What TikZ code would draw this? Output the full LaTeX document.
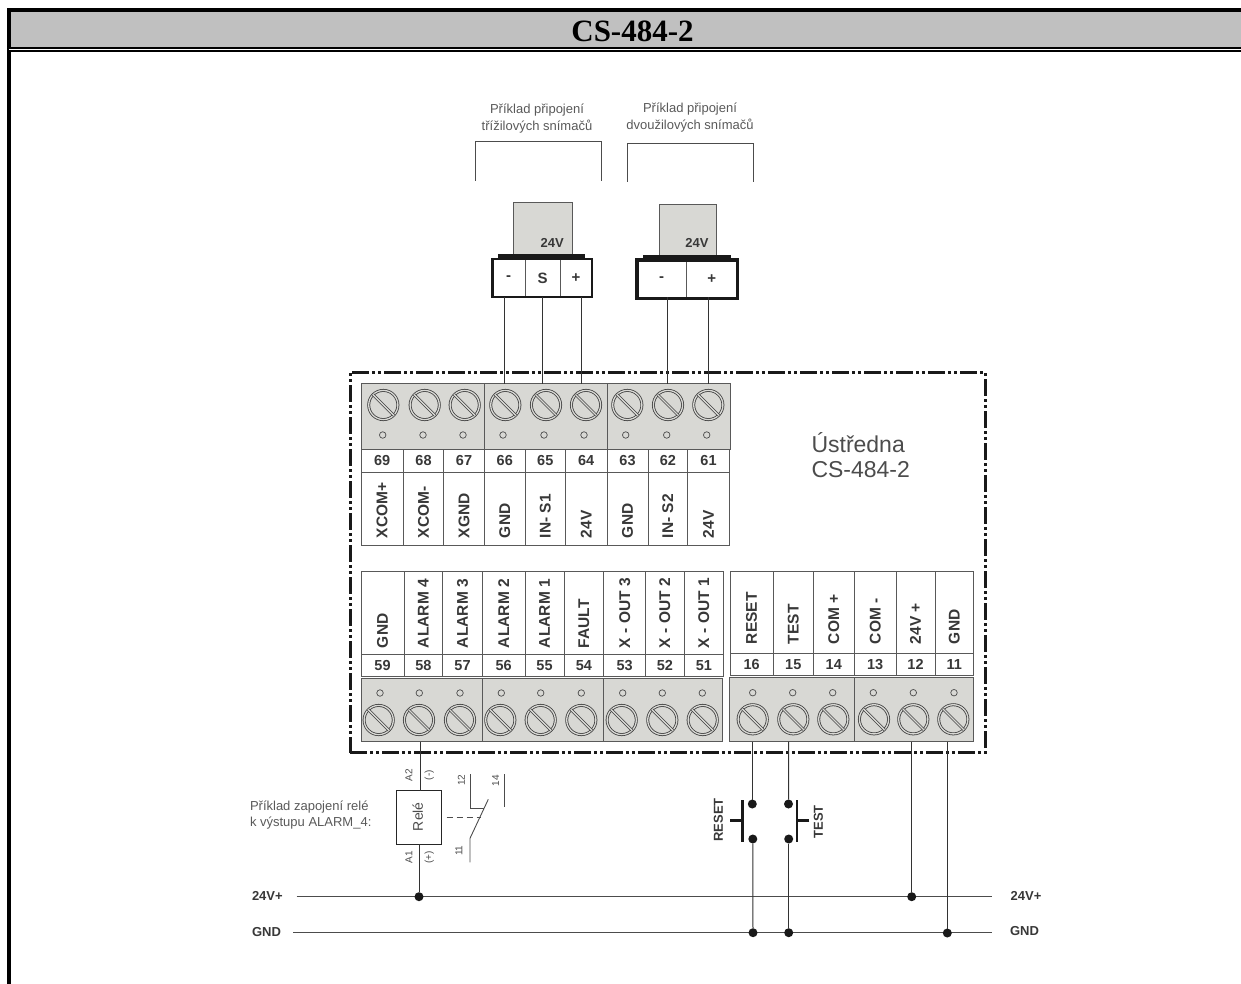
\documentclass[tikz,border=0pt]{standalone}
\usepackage{fontspec}
\setmainfont{Liberation Sans}
\newfontfamily\titlefont{Liberation Serif}
\usepackage{tikz}
\definecolor{stripgray}{RGB}{216,216,212}
\definecolor{bandgray}{RGB}{192,192,192}
\definecolor{inkgray}{gray}{0.22}
\tikzset{
    every node/.style={align=center,inner sep=0pt,outer sep=0pt,text=inkgray},
    wire/.style={draw=black!80,line width=1pt},
    thinline/.style={draw=black!70,line width=0.9pt},
    strip/.style={draw=black!65,fill=stripgray,line width=0.9pt,anchor=north west},
    cell/.style={draw=black!65,fill=white,line width=0.9pt,anchor=north west},
    unitbox/.style={draw=black!90,line width=3pt,anchor=north west,dash pattern=on 17pt off 3pt on 3pt off 3pt on 3pt off 3pt},
    hole/.style={draw=black!70,circle,minimum size=6.5pt,line width=0.7pt},
    dot/.style={fill=black!90,circle,minimum size=9pt},
    numtext/.style={font=\fontsize{14.5}{16}\selectfont\bfseries},
    termtext/.style={font=\fontsize{15.5}{17}\selectfont\bfseries,rotate=90,anchor=west},
    smalltext/.style={font=\fontsize{13}{16.5}\selectfont,text=black!65},
    bustext/.style={font=\fontsize{13}{15}\selectfont\bfseries},
    tinytext/.style={font=\fontsize{10}{12}\selectfont,rotate=90,text=black!70},
    pins/.style={font=\fontsize{15}{17}\selectfont\bfseries},
    screw/.pic={
        \draw[black!75,double=stripgray,double distance=1.3pt,line width=0.8pt] (0,0) circle (14.6);
        \draw[black!75,double=stripgray,double distance=1.4pt,line width=0.7pt] (-10.5,-10.5) -- (10.5,10.5);
    },
}

\begin{document}
\begin{tikzpicture}[x=1pt,y=-1pt]
    \useasboundingbox (0,0) rectangle (1241,984);

    % frame and title band
    \node[fill=bandgray,anchor=north west,minimum width=1230pt,minimum height=35pt] (band) at (11,12) {};
    \fill[black] (7,8) rectangle (1241,12);
    \fill[black] (7,8) rectangle (11,984);
    \fill[black] (7,47) rectangle (1241,49);
    \fill[black] (7,50) rectangle (1241,52);
    \fill[white] (9,49) rectangle (1241,50);
    \node[font=\fontsize{31}{33}\selectfont\titlefont\bfseries,text=black] (title) at (632.5,31) {CS-484-2};

    % control unit
    \node[unitbox,minimum width=635pt,minimum height=380.7pt] (unit) at (350,372) {};
    \node[font=\fontsize{23}{25}\selectfont,align=left,anchor=north west,text=black!70] (unitname) at (811.5,433) {Ústředna\\CS-484-2};

    % upper terminals
    \node[strip,minimum width=123.3pt,minimum height=65.5pt] (stripa) at (361,383.5) {};
    \node[strip,minimum width=122.7pt,minimum height=65.5pt] (stripb) at (484.3,383.5) {};
    \node[strip,minimum width=123.7pt,minimum height=65.5pt] (stripc) at (607,383.5) {};
    \foreach \x/\w/\sx/\cx/\num/\lab in {
        361/42.3/383.3/382.7/69/XCOM+, 403.3/40.4/424.7/423/68/XCOM-, 443.7/40.6/464.7/463/67/XGND,
        484.3/41/505.3/503/66/GND, 525.3/40/546/544/65/IN- S1, 565.3/41.7/586/584/64/24V,
        607/41/627.3/625.7/63/GND, 648/39.7/668/666.7/62/IN- S2, 687.7/41.6/708.3/706.7/61/24V}{
        \pic at (\sx,405) {screw};
        \node[hole] (hole\num) at (\cx,435) {};
        \node[cell,numtext,minimum width=\w pt,minimum height=23.5pt] (num\num) at (\x,449) {\num};
        \node[cell,minimum width=\w pt,minimum height=73.2pt] (box\num) at (\x,472.5) {};
        \node[termtext] (txt\num) at ([yshift=7.7pt]box\num.south) {\lab};
    }

    % lower terminals, left block
    \node[strip,minimum width=121.3pt,minimum height=63pt] (stripd) at (361,678.7) {};
    \node[strip,minimum width=121.4pt,minimum height=63pt] (stripe) at (482.3,678.7) {};
    \node[strip,minimum width=118.6pt,minimum height=63pt] (stripf) at (603.7,678.7) {};
    \foreach \x/\w/\sx/\cx/\num/\lab in {
        361/43/378.7/380/59/GND, 404/38.7/419/419.3/58/ALARM 4, 442.7/39.6/460/460/57/ALARM 3,
        482.3/42.7/500.3/501.3/56/ALARM 2, 525/39/540.7/540.7/55/ALARM 1, 564/39.7/581.3/581.3/54/FAULT,
        603.7/42/621.7/622.7/53/X - OUT 3, 645.7/38.3/662.3/662.3/52/X - OUT 2, 684/39.7/702.7/702.3/51/X - OUT 1}{
        \pic at (\sx,720) {screw};
        \node[hole] (hole\num) at (\cx,693) {};
        \node[cell,minimum width=\w pt,minimum height=82.6pt] (box\num) at (\x,571.7) {};
        \node[cell,numtext,minimum width=\w pt,minimum height=22pt] (num\num) at (\x,654.3) {\num};
        \node[termtext] (txt\num) at ([yshift=6.3pt]box\num.south) {\lab};
    }

    % lower terminals, right block
    \node[strip,minimum width=125pt,minimum height=64.4pt] (stripg) at (729.3,677.3) {};
    \node[strip,minimum width=119pt,minimum height=64.4pt] (striph) at (854.3,677.3) {};
    \foreach \x/\w/\sx/\cx/\num/\lab in {
        730/43.3/752.7/752.7/16/RESET, 773.3/40/793.3/792.7/15/TEST, 813.3/41/833.3/832.7/14/COM +,
        854.3/41.7/874/873.3/13/COM -, 896/39/913.3/913.3/12/24V +, 935/38.3/953.3/954/11/GND}{
        \pic at (\sx,719.3) {screw};
        \node[hole] (hole\num) at (\cx,692.7) {};
        \node[cell,minimum width=\w pt,minimum height=82pt] (box\num) at (\x,571.3) {};
        \node[cell,numtext,minimum width=\w pt,minimum height=21.7pt] (num\num) at (\x,653.3) {\num};
        \node[termtext] (txt\num) at ([yshift=9.3pt]box\num.south) {\lab};
    }

    % sensors, three wires
    \node[smalltext] (threetext) at (537,118.5) {Příklad připojení\\třížilových snímačů};
    \draw[thinline] (475,181) -- (475,141.7) -- (601.3,141.7) -- (601.3,181);
    \node[fill=stripgray,draw=black!65,line width=0.9pt,anchor=north west,minimum width=58.7pt,minimum height=51.3pt] (bodya) at (513.3,202.7) {};
    \node[bustext] (volta) at (552.3,242.7) {24V};
    \node[fill=black!90,anchor=north west,minimum width=86.7pt,minimum height=5.3pt] (bara) at (498.3,254) {};
    \node[cell,pins,minimum width=32.7pt,minimum height=37.7pt] (minusa) at (492.3,259) {-};
    \node[cell,pins,minimum width=35pt,minimum height=37.7pt] (signala) at (525,259) {S};
    \node[cell,pins,minimum width=32pt,minimum height=37.7pt] (plusa) at (560,259) {+};
    \draw[black!90,line width=2.4pt] (minusa.north west) rectangle (plusa.south east);

    % sensors, two wires
    \node[smalltext] (twotext) at (690,117.5) {Příklad připojení\\dvoužilových snímačů};
    \draw[thinline] (627,182) -- (627,143.3) -- (753,143.3) -- (753,182);
    \node[fill=stripgray,draw=black!65,line width=0.9pt,anchor=north west,minimum width=57.4pt,minimum height=51pt] (bodyb) at (659.3,204) {};
    \node[bustext] (voltb) at (697,243.3) {24V};
    \node[fill=black!90,anchor=north west,minimum width=87.7pt,minimum height=6.7pt] (barb) at (643,255) {};
    \node[cell,pins,minimum width=49pt,minimum height=38.3pt] (minusb) at (637,260) {-};
    \node[cell,pins,minimum width=51.7pt,minimum height=38.3pt] (plusb) at (686,260) {+};
    \draw[black!90,line width=3.2pt] (minusb.north west) rectangle (plusb.south east);

    % sensor wires
    \foreach \x/\name in {504.3/a,542.7/b,581/c,667.5/d,708.3/e}{
        \coordinate (wiretop\name) at (\x,297);
        \coordinate (wirebot\name) at (\x,383.5);
        \draw[wire] (wiretop\name) -- (wirebot\name);
    }

    % supply lines
    \node[bustext,anchor=west] (plusleft) at (252,895.5) {24V+};
    \node[bustext,anchor=west] (gndleft) at (252,932) {GND};
    \node[bustext,anchor=west] (plusright) at (1010.7,896) {24V+};
    \node[bustext,anchor=west] (gndright) at (1010,931) {GND};
    \coordinate (busplusa) at (296.7,896.7);
    \coordinate (busplusb) at (991.7,896.7);
    \coordinate (busgnda) at (293.3,932.7);
    \coordinate (busgndb) at (991.7,932.7);
    \draw[wire,draw=black!70] (busplusa) -- (busplusb);
    \draw[wire,draw=black!70] (busgnda) -- (busgndb);

    % relay
    \node[smalltext,align=left,anchor=west] (relaytext) at (250,815) {Příklad zapojení relé\\k výstupu ALARM\_4:};
    \node[draw=black!85,line width=1pt,fill=white,minimum width=44.6pt,minimum height=53.6pt,anchor=north west] (relay) at (396.7,790.7) {};
    \node[font=\fontsize{14}{16}\selectfont,rotate=90,text=black!70] (relayname) at (417.7,816.7) {Relé};
    \node[tinytext] (atwo) at (409,775) {A2};
    \node[tinytext] (minusrel) at (429.3,775) {(-)};
    \node[tinytext] (aone) at (409,857.3) {A1};
    \node[tinytext] (plusrel) at (429.3,857.3) {(+)};
    \node[tinytext] (ctwelve) at (461.3,780) {12};
    \node[tinytext] (cfourteen) at (495.7,780.7) {14};
    \node[tinytext] (celeven) at (459,850.7) {11};
    \coordinate (pinrelay) at (420.3,741.7);
    \node[dot] (joinrelay) at (419,896.7) {};
    \draw[wire] (pinrelay) -- (pinrelay |- relay.north);
    \draw[wire] (relay.south) -- (joinrelay);

    % relay contact
    \coordinate (twelvetop) at (470,774);
    \coordinate (twelvebot) at (470,808.3);
    \coordinate (twelveend) at (484.3,808.3);
    \coordinate (fourtop) at (504,774);
    \coordinate (fourbot) at (504,807.3);
    \coordinate (levertop) at (488.3,799.3);
    \coordinate (leverbot) at (470,838.3);
    \coordinate (elevenbot) at (470,862.3);
    \coordinate (dasha) at (446.7,817.7);
    \coordinate (dashb) at (480.7,817.7);
    \draw[thinline] (twelvetop) -- (twelvebot) -- (twelveend);
    \draw[thinline] (fourtop) -- (fourbot);
    \draw[thinline] (levertop) -- (leverbot) -- (elevenbot);
    \draw[thinline,dash pattern=on 6.5pt off 3.5pt] (dasha) -- (dashb);

    % push buttons
    \node[dot] (resettop) at (752.3,804) {};
    \node[dot] (resetbot) at (752.8,839) {};
    \node[dot] (testtop) at (788.5,804) {};
    \node[dot] (testbot) at (788.7,839) {};
    \node[dot] (resetgnd) at (753,932.7) {};
    \node[dot] (testgnd) at (788.7,932.7) {};
    \coordinate (pinreset) at (752.3,741.7);
    \coordinate (pintest) at (788.7,741.7);
    \draw[wire] (pinreset) -- (resettop);
    \draw[wire] (resetbot) -- (resetgnd);
    \draw[wire] (pintest) -- (testtop);
    \draw[wire] (testbot) -- (testgnd);
    \coordinate (resetbara) at (742.3,800);
    \coordinate (resetbarb) at (742.3,842.3);
    \coordinate (resetstem) at (730,820.7);
    \coordinate (testbara) at (797,800);
    \coordinate (testbarb) at (797,842.3);
    \coordinate (teststem) at (809.3,820.7);
    \draw[black!90,line width=2.8pt] (resetbara) -- (resetbarb);
    \draw[black!90,line width=2.8pt] (resetstem) -- (resetstem -| resetbara);
    \draw[black!90,line width=2.8pt] (testbara) -- (testbarb);
    \draw[black!90,line width=2.8pt] (teststem) -- (teststem -| testbara);
    \node[bustext,rotate=90] (resetname) at (718.3,820) {RESET};
    \node[bustext,rotate=90] (testname) at (818.3,821.7) {TEST};

    % 24V and GND feeds
    \coordinate (pinplus) at (911.7,741.7);
    \coordinate (pingnd) at (947.3,741.7);
    \node[dot] (joinplus) at (911.7,896.7) {};
    \node[dot] (joingnd) at (947.3,933) {};
    \draw[wire] (pinplus) -- (joinplus);
    \draw[wire] (pingnd) -- (joingnd);
\end{tikzpicture}
\end{document}
